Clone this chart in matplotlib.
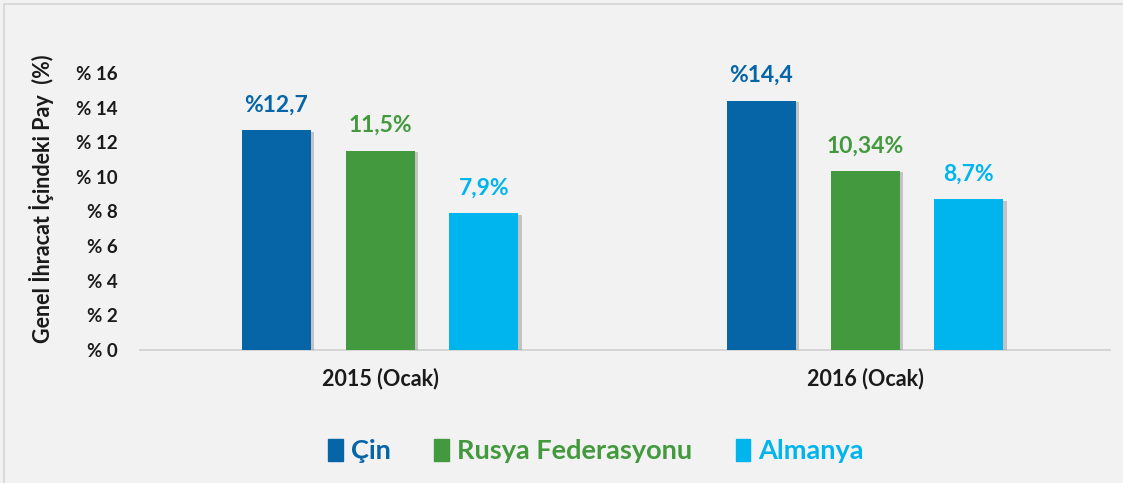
import matplotlib
matplotlib.use("Agg")
import matplotlib.pyplot as plt
import matplotlib.patheffects as pe
from matplotlib.patches import Rectangle
import numpy as np

categories = ["2015 (Ocak)", "2016 (Ocak)"]
series_names = ["Çin", "Rusya Federasyonu", "Almanya"]
cin = [12.7, 14.4]
rusya = [11.5, 10.34]
almanya = [7.9, 8.7]
value_labels = [["%12,7", "%14,4"], ["11,5%", "10,34%"], ["7,9%", "8,7%"]]
yticks = [0, 2, 4, 6, 8, 10, 12, 14, 16]
ytick_labels = ["% 0", "% 2", "% 4", "% 6", "% 8", "% 10", "% 12", "% 14", "% 16"]
colors = ["#0565a7", "#43993d", "#00b4ee"]

plt.rcParams['font.family'] = ['Lato', 'DejaVu Sans']

W, H = 1123, 483
fig = plt.figure(figsize=(W / 100, H / 100), dpi=100)
fig.patch.set_facecolor("#f2f2f2")

# border (top/left visible)
fig.add_artist(Rectangle((4 / W, -0.1), 1.2, (H - 4) / H + 0.1, transform=fig.transFigure,
                         facecolor="none", edgecolor="#d6d6d6", linewidth=1.2))

ax = fig.add_axes([140 / W, (H - 350) / H, (1110 - 140) / W, (350 - 73) / H])
ax.set_facecolor("#f2f2f2")

x = np.arange(len(categories))
width = 0.142
step = 0.214
series = [cin, rusya, almanya]
for i, (vals, col) in enumerate(zip(series, colors)):
    pos = x + (i - 1) * step
    bars = ax.bar(pos, vals, width=width, color=col, label=series_names[i], zorder=3,
                  path_effects=[pe.SimplePatchShadow(offset=(2.5, -1), shadow_rgbFace="#8a8a8a", alpha=0.45),
                                pe.Normal()])
    for b, v, lab in zip(bars, vals, value_labels[i]):
        ax.text(b.get_x() + b.get_width() / 2, v + 0.85, lab, ha="center", va="bottom",
                color=col, fontsize=16.5, fontweight="bold", clip_on=False)

ax.set_xlim(-0.495, 1.505)
ax.set_ylim(0, 16)
ax.set_yticks(yticks)
ax.set_yticklabels(ytick_labels, fontsize=13.5, fontweight="bold", color="#1a1a1a")
ax.set_xticks(x)
ax.set_xticklabels(categories, fontsize=15.5, fontweight="bold", color="#1a1a1a")
ax.tick_params(axis="y", length=0, pad=16)
ax.tick_params(axis="x", length=0, pad=13)
for s in ["top", "right", "left"]:
    ax.spines[s].set_visible(False)
ax.spines["bottom"].set_color("#d0d0d0")
ax.spines["bottom"].set_linewidth(1.2)

fig.text(42 / W, (H - 199) / H, "Genel İhracat İçindeki Pay  (%)", rotation=90, ha="center", va="center",
         fontsize=15.5, fontweight="bold", color="#1a1a1a")

handles = [Rectangle((0, 0), 1, 1, color=c) for c in colors]
leg = fig.legend(handles, series_names, loc="center", bbox_to_anchor=(596 / W, (H - 451) / H),
                 ncol=3, frameon=False, fontsize=19.5, handlelength=0.55, handleheight=0.85,
                 handletextpad=0.3, columnspacing=1.6)
for t, c in zip(leg.get_texts(), colors):
    t.set_color(c)
    t.set_fontweight("bold")

fig.savefig("out.png", dpi=100, facecolor=fig.get_facecolor())
